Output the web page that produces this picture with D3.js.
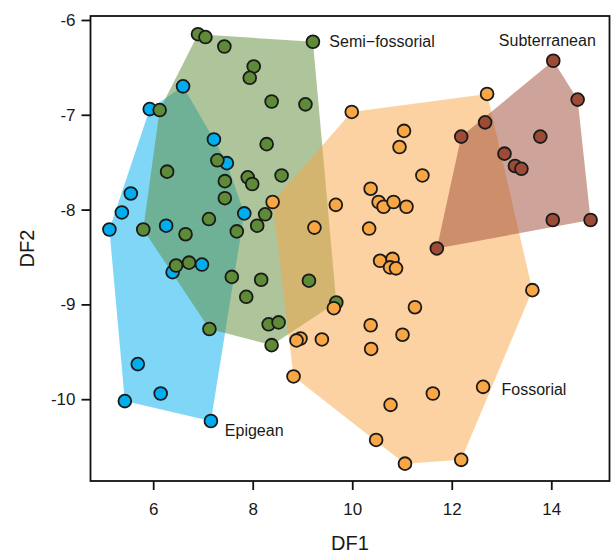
<!DOCTYPE html>
<html>
<head>
<meta charset="utf-8">
<script src="https://cdn.jsdelivr.net/npm/d3@7"></script>
<style>
  html, body { margin: 0; padding: 0; background: #fff; }
  svg { display: block; font-family: "Liberation Sans", Arial, sans-serif; }
</style>
</head>
<body>
<svg id="chart" width="611" height="555"></svg>
<script>
// ---- data (DF1, DF2) ----
const epigean = [
  [5.93,-6.94],[6.60,-6.70],[7.22,-7.26],[7.48,-7.51],[5.55,-7.83],[5.37,-8.03],
  [7.83,-8.04],[6.26,-8.17],[5.12,-8.21],[6.39,-8.66],[6.98,-8.58],[5.69,-9.63],
  [6.15,-9.94],[5.43,-10.02],[7.16,-10.23]
];
const semiFossorial = [
  [6.90,-6.15],[7.05,-6.18],[7.43,-6.28],[9.21,-6.23],[8.02,-6.49],[7.94,-6.61],
  [8.38,-6.86],[9.06,-6.89],[6.13,-6.95],[8.28,-7.31],[7.29,-7.48],[6.28,-7.60],
  [8.58,-7.64],[7.90,-7.66],[7.99,-7.73],[7.44,-7.70],[7.44,-7.88],[8.25,-8.05],
  [7.12,-8.10],[5.80,-8.21],[6.65,-8.26],[8.09,-8.17],[7.68,-8.23],[6.46,-8.59],
  [6.72,-8.56],[7.58,-8.71],[8.17,-8.74],[7.87,-8.92],[9.13,-8.75],[9.68,-8.98],
  [7.13,-9.26],[8.32,-9.21],[8.52,-9.19],[8.38,-9.43]
];
const fossorial = [
  [9.99,-6.97],[12.71,-6.78],[11.04,-7.17],[10.95,-7.34],[11.41,-7.64],[10.37,-7.78],
  [10.53,-7.92],[10.63,-7.97],[10.83,-7.92],[11.09,-7.97],[8.40,-7.92],[9.67,-7.95],
  [9.24,-8.19],[10.34,-8.20],[10.56,-8.54],[10.81,-8.52],[10.76,-8.61],[10.88,-8.62],
  [13.62,-8.85],[9.63,-9.04],[11.26,-9.03],[10.37,-9.22],[11.01,-9.32],[10.38,-9.47],
  [8.96,-9.36],[8.88,-9.38],[9.39,-9.37],[8.82,-9.76],[12.63,-9.87],[11.62,-9.94],
  [10.77,-10.06],[10.48,-10.43],[11.06,-10.68],[12.19,-10.64]
];
const subterranean = [
  [14.04,-6.43],[14.53,-6.84],[12.67,-7.08],[12.19,-7.23],[13.78,-7.23],[13.06,-7.41],
  [13.27,-7.54],[13.40,-7.57],[14.03,-8.11],[14.79,-8.11],[11.70,-8.41]
];

const groupNames  = ["Epigean", "Semi\u2212fossorial", "Fossorial", "Subterranean"];
const groupColors = ["#00aeef", "#5e8b37", "#f9a645", "#9d4a36"];
// label anchor positions in data units (DF1, DF2) and text anchor
const labelPos    = [[7.44,-10.33],[9.54,-6.23],[13.0,-9.895],[13.92,-6.22]];
const labelAnchor = ["start","start","start","middle"];

const xTicks = [6, 8, 10, 12, 14];
const yTicks = [-6, -7, -8, -9, -10];
const xTitle = "DF1";
const yTitle = "DF2";

// ---- drawing ----
const groups = [epigean, semiFossorial, fossorial, subterranean];
const svg = d3.select("#chart");
const pL = 90.5, pR = 609.5, pT = 16, pB = 481;

const x = d3.scaleLinear().domain([4.74, 15.17]).range([pL, pR]);
const y = d3.scaleLinear().domain([-5.958, -10.863]).range([pT, pB]);

// hulls
const hullG = svg.append("g");
groups.forEach((pts, i) => {
  const hull = d3.polygonHull(pts.map(p => [x(p[0]), y(p[1])]));
  hullG.append("path")
    .attr("d", "M" + hull.join("L") + "Z")
    .attr("fill", groupColors[i])
    .attr("fill-opacity", 0.5)
    .attr("stroke", "none");
});

// points
const ptG = svg.append("g");
groups.forEach((pts, i) => {
  ptG.selectAll(null).data(pts).enter().append("circle")
    .attr("cx", d => x(d[0]))
    .attr("cy", d => y(d[1]))
    .attr("r", 6.4)
    .attr("fill", groupColors[i])
    .attr("stroke", "#1a1a1a")
    .attr("stroke-width", 1.8);
});

// group labels
groupNames.forEach((name, i) => {
  svg.append("text")
    .attr("x", x(labelPos[i][0]))
    .attr("y", y(labelPos[i][1]))
    .attr("dy", "0.35em")
    .attr("text-anchor", labelAnchor[i])
    .attr("font-size", 16)
    .attr("fill", "#1a1a1a")
    .text(name);
});

// box
svg.append("rect")
  .attr("x", pL).attr("y", pT)
  .attr("width", pR - pL).attr("height", pB - pT)
  .attr("fill", "none").attr("stroke", "#111").attr("stroke-width", 1.8);

// axes
const xAxis = d3.axisBottom(x).tickValues(xTicks).tickSize(9).tickPadding(13).tickFormat(d3.format("d"));
const gx = svg.append("g").attr("transform", `translate(0,${pB})`).call(xAxis);
const yAxis = d3.axisLeft(y).tickValues(yTicks).tickSize(9).tickPadding(6).tickFormat(d => String(d));
const gy = svg.append("g").attr("transform", `translate(${pL},0)`).call(yAxis);
[gx, gy].forEach(g => {
  g.select(".domain").remove();
  g.selectAll(".tick line").attr("stroke", "#111").attr("stroke-width", 1.8);
  g.selectAll(".tick text").attr("font-size", 17).attr("fill", "#1a1a1a")
    .attr("font-family", "'Liberation Sans', Arial, sans-serif");
});

// axis titles
svg.append("text")
  .attr("x", (pL + pR) / 2).attr("y", 550)
  .attr("text-anchor", "middle").attr("font-size", 20).attr("fill", "#1a1a1a")
  .text(xTitle);
svg.append("text")
  .attr("transform", `translate(34,${(pT + pB) / 2}) rotate(-90)`)
  .attr("text-anchor", "middle").attr("font-size", 20).attr("fill", "#1a1a1a")
  .text(yTitle);
</script>
</body>
</html>
